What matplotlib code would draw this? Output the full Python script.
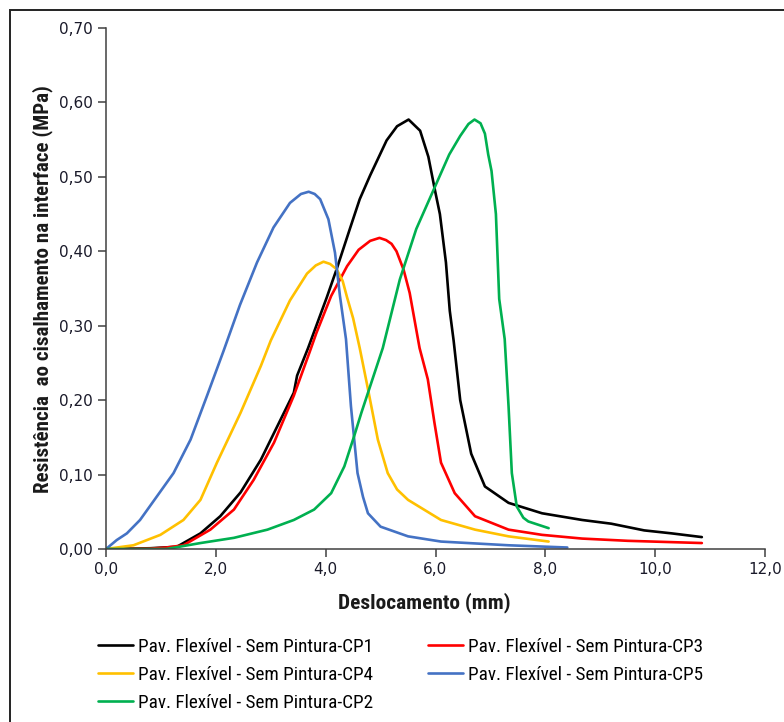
import os
import matplotlib
matplotlib.use("Agg")
import matplotlib.pyplot as plt
import matplotlib.font_manager as fm
from matplotlib.font_manager import FontProperties
from matplotlib.patches import Rectangle
from matplotlib.ticker import FuncFormatter

# ---- data ----
labels = ["Pav. Flexível - Sem Pintura-CP1", "Pav. Flexível - Sem Pintura-CP3",
          "Pav. Flexível - Sem Pintura-CP4", "Pav. Flexível - Sem Pintura-CP5",
          "Pav. Flexível - Sem Pintura-CP2"]

cp1_x = [0.0, 0.8, 1.29, 1.72, 2.08, 2.45, 2.82, 3.12, 3.42, 3.48, 3.68, 3.83, 4.02, 4.2, 4.44,
         4.62, 4.81, 5.11, 5.3, 5.51, 5.72, 5.87, 5.99, 6.08, 6.19, 6.26, 6.33, 6.45, 6.65, 6.9,
         7.33, 7.94, 8.67, 9.2, 9.8, 10.3, 10.85]
cp1_y = [0.0, 0.001, 0.003, 0.021, 0.044, 0.076, 0.12, 0.165, 0.21, 0.233, 0.27, 0.30, 0.338,
         0.376, 0.43, 0.47, 0.502, 0.549, 0.568, 0.577, 0.562, 0.527, 0.482, 0.45, 0.385, 0.32,
         0.28, 0.2, 0.128, 0.084, 0.062, 0.048, 0.039, 0.034, 0.025, 0.021, 0.016]

cp3_x = [0.0, 0.8, 1.1, 1.41, 1.9, 2.33, 2.69, 3.06, 3.42, 3.71, 3.83, 4.1, 4.39, 4.6, 4.81,
         4.98, 5.1, 5.2, 5.29, 5.42, 5.53, 5.71, 5.86, 5.98, 6.1, 6.35, 6.72, 7.33, 7.94, 8.67,
         9.5, 10.85]
cp3_y = [0.0, 0.0005, 0.002, 0.005, 0.026, 0.053, 0.093, 0.143, 0.206, 0.265, 0.29, 0.34, 0.38,
         0.402, 0.414, 0.418, 0.415, 0.41, 0.40, 0.375, 0.344, 0.27, 0.228, 0.17, 0.116, 0.075,
         0.044, 0.026, 0.019, 0.014, 0.011, 0.008]

cp4_x = [0.0, 0.5, 0.99, 1.41, 1.72, 2.02, 2.45, 2.82, 3.0, 3.35, 3.66, 3.82, 3.96, 4.08, 4.2,
         4.31, 4.39, 4.5, 4.62, 4.77, 4.95, 5.13, 5.3, 5.5, 6.1, 6.72, 7.33, 8.06]
cp4_y = [0.0, 0.005, 0.019, 0.039, 0.066, 0.116, 0.183, 0.246, 0.28, 0.334, 0.37, 0.381, 0.386,
         0.383, 0.376, 0.36, 0.338, 0.31, 0.27, 0.215, 0.147, 0.102, 0.08, 0.066, 0.039, 0.026,
         0.017, 0.010]

cp5_x = [0.0, 0.195, 0.38, 0.62, 0.93, 1.23, 1.54, 1.84, 2.14, 2.44, 2.75, 3.05, 3.35, 3.55,
         3.69, 3.8, 3.9, 4.05, 4.17, 4.26, 4.37, 4.46, 4.58, 4.68, 4.77, 5.0, 5.5, 6.1, 7.33, 8.4]
cp5_y = [0.0, 0.012, 0.021, 0.039, 0.071, 0.102, 0.147, 0.206, 0.266, 0.328, 0.385, 0.432,
         0.465, 0.477, 0.48, 0.477, 0.47, 0.443, 0.398, 0.34, 0.282, 0.192, 0.102, 0.07, 0.048,
         0.030, 0.017, 0.010, 0.005, 0.002]

cp2_x = [0.0, 1.1, 1.72, 2.33, 2.94, 3.42, 3.79, 4.1, 4.34, 4.52, 4.65, 5.04, 5.35, 5.65, 5.95,
         6.25, 6.45, 6.6, 6.71, 6.82, 6.9, 6.96, 7.02, 7.1, 7.16, 7.26, 7.33, 7.39, 7.48, 7.6,
         7.69, 8.06]
cp2_y = [0.0, 0.0, 0.008, 0.015, 0.026, 0.039, 0.053, 0.075, 0.111, 0.152, 0.183, 0.27, 0.362,
         0.43, 0.48, 0.53, 0.555, 0.571, 0.577, 0.572, 0.558, 0.53, 0.508, 0.45, 0.336, 0.282,
         0.192, 0.102, 0.057, 0.042, 0.037, 0.028]

colors = ["#000000", "#FF0000", "#FFC000", "#4472C4", "#00B050"]

xticks = [0, 2, 4, 6, 8, 10, 12]
yticks = [0.0, 0.1, 0.2, 0.3, 0.4, 0.5, 0.6, 0.7]

# ---- fonts: prefer a narrow sans if one is installed ----
def find_narrow(bold):
    prefs = ["liberationsansnarrow", "arialnarrow", "robotocondensed", "dejavusanscondensed",
             "opensanscondensed"]
    files = sorted({f.fname for f in fm.fontManager.ttflist})
    for p in prefs:
        for fn in files:
            b = os.path.basename(fn).lower().replace("-", "").replace("_", "")
            if not b.startswith(p):
                continue
            if "italic" in b or "oblique" in b or "light" in b or "thin" in b or "medium" in b:
                continue
            isb = "bold" in b
            if isb == bold:
                return fn
    return None

nreg = find_narrow(False)
nbold = find_narrow(True)

def make_prop(bold):
    fn = nbold if bold else nreg
    if fn:
        return FontProperties(fname=fn)
    return FontProperties(family=["Liberation Sans", "DejaVu Sans"],
                          weight="bold" if bold else "normal")

# ---- figure ----
W, H = 784, 722
fig = plt.figure(figsize=(W / 100, H / 100), dpi=100)
renderer = fig.canvas.get_renderer()

def measure(prop, text):
    t = fig.text(0, 0, text, fontproperties=prop)
    bb = t.get_window_extent(renderer)
    t.remove()
    return bb

def fit(prop, text, target_px, base=12.0):
    p = prop.copy()
    p.set_size(base)
    w = measure(p, text).width
    p.set_size(base * target_px / w)
    return p

ax = fig.add_axes([106 / W, 1 - 549 / H, (765 - 106) / W, (549 - 28) / H])

series = [(cp1_x, cp1_y), (cp3_x, cp3_y), (cp4_x, cp4_y), (cp5_x, cp5_y), (cp2_x, cp2_y)]
lines = []
for (xs, ys), c, lab in zip(series, colors, labels):
    ln, = ax.plot(xs, ys, color=c, lw=1.9, label=lab, solid_joinstyle="round",
                  solid_capstyle="round")
    lines.append(ln)

ax.set_xlim(0, 12)
ax.set_ylim(0, 0.70)
ax.set_xticks(xticks)
ax.set_yticks(yticks)
ax.xaxis.set_major_formatter(FuncFormatter(lambda v, p: f"{v:.1f}".replace(".", ",")))
ax.yaxis.set_major_formatter(FuncFormatter(lambda v, p: f"{v:.2f}".replace(".", ",")))

for s in ["top", "right"]:
    ax.spines[s].set_visible(False)
for s in ["left", "bottom"]:
    ax.spines[s].set_color("#404040")
    ax.spines[s].set_linewidth(1.1)
ax.tick_params(axis="both", direction="out", length=5.5, width=1.1, color="#404040",
               labelsize=11, labelcolor="#1a1a2a", pad=4)
for t in ax.get_xticklabels() + ax.get_yticklabels():
    t.set_family("DejaVu Sans")

xl_prop = fit(make_prop(True), "Deslocamento (mm)", 172)
yl_prop = fit(make_prop(True), "Resistência  ao cisalhamento na interface (MPa)", 408)
ax.set_xlabel("Deslocamento (mm)", fontproperties=xl_prop, color="#1a1a1a")
ax.set_ylabel("Resistência  ao cisalhamento na interface (MPa)", fontproperties=yl_prop,
              color="#1a1a1a")
ax.xaxis.set_label_coords((424 - 106) / 659, (549 - 603) / 521)
ax.yaxis.set_label_coords((43 - 106) / 659, (549 - 289) / 521)
ax.xaxis.label.set_va("center")
ax.yaxis.label.set_va("center")

leg_prop = fit(make_prop(False), labels[0], 234)
fs_px = leg_prop.get_size_in_points() * 100 / 72
row_h = measure(leg_prop, labels[0]).height
order = [0, 2, 4, 1, 3]
leg = fig.legend([lines[i] for i in order], [labels[i] for i in order], ncol=2,
                 loc="upper left", bbox_to_anchor=(98 / W, 1 - 638 / H), frameon=False,
                 prop=leg_prop, handlelength=35 / fs_px, handletextpad=5 / fs_px,
                 columnspacing=55 / fs_px, labelspacing=max(0.05, (28 - row_h) / fs_px),
                 borderaxespad=0, borderpad=0)

fig.patches.append(Rectangle((10 / W, -0.2), 1.2, 1.2 - 10 / H, transform=fig.transFigure,
                             fill=False, lw=1.4, ec="#222222"))

fig.savefig("out.png", dpi=100)
